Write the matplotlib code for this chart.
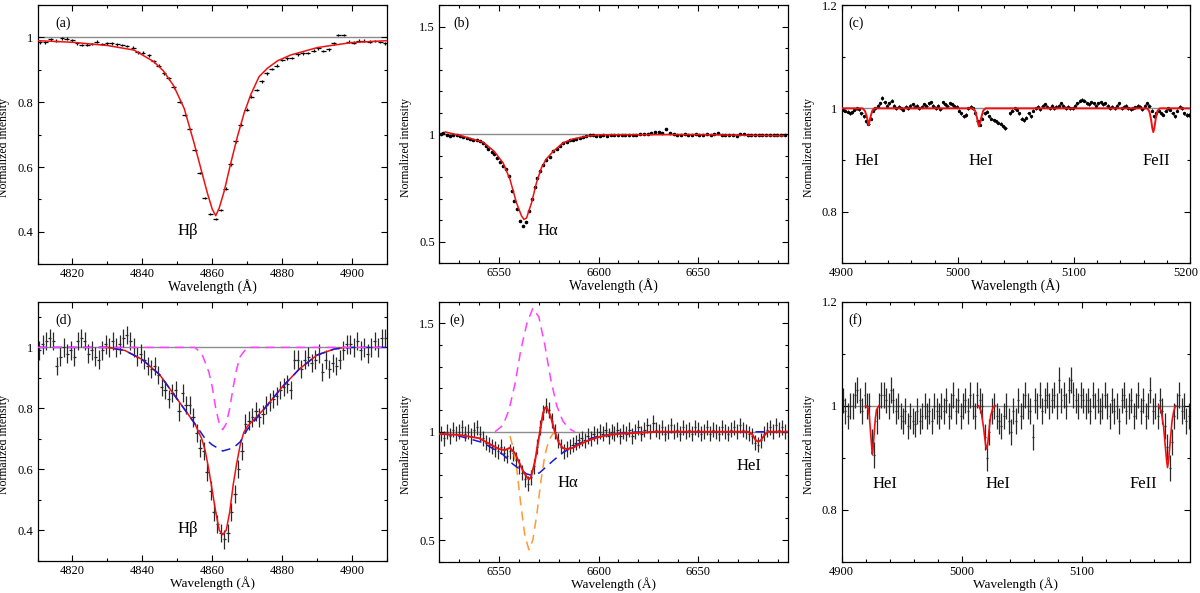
import numpy as np
import matplotlib
matplotlib.use('Agg')
import matplotlib.pyplot as plt
from matplotlib.ticker import MultipleLocator, FuncFormatter

plt.rcParams['font.family'] = ['Liberation Serif', 'DejaVu Serif']

# ---------------- Panel (a): H-beta, high-S/N spectrum ----------------
a_wave = [4810.6, 4812.2, 4813.8, 4815.4, 4817.0, 4818.4, 4819.9, 4821.3, 4822.7, 4824.2,
          4825.6, 4827.0, 4828.5, 4829.9, 4831.3, 4832.8, 4834.2, 4835.6, 4837.4, 4838.7,
          4840.2, 4841.9, 4843.3, 4844.7, 4846.2, 4847.6, 4849.0, 4850.7, 4852.1, 4853.5,
          4855.0, 4856.4, 4857.9, 4859.4, 4861.0, 4862.4, 4863.9, 4865.3, 4866.7, 4868.2,
          4869.8, 4871.2, 4872.7, 4874.1, 4875.6, 4877.0, 4878.4, 4880.1, 4881.4, 4882.8,
          4884.4, 4885.9, 4887.3, 4889.0, 4890.4, 4891.8, 4893.3, 4894.7, 4896.1, 4897.6,
          4899.0, 4900.5, 4901.9, 4903.4, 4905.0, 4906.5, 4908.1, 4909.5]
a_flux = [0.985, 0.985, 0.994, 0.990, 0.997, 0.996, 0.991, 0.982, 0.976, 0.978,
          0.980, 0.987, 0.980, 0.982, 0.982, 0.979, 0.977, 0.974, 0.968, 0.954,
          0.953, 0.945, 0.926, 0.913, 0.889, 0.874, 0.846, 0.802, 0.760, 0.717,
          0.653, 0.582, 0.505, 0.455, 0.440, 0.467, 0.533, 0.608, 0.679, 0.731,
          0.777, 0.817, 0.838, 0.864, 0.889, 0.902, 0.913, 0.930, 0.935, 0.937,
          0.948, 0.951, 0.952, 0.959, 0.966, 0.958, 0.963, 0.982, 1.007, 1.007,
          0.987, 0.984, 0.990, 0.990, 0.987, 0.989, 0.986, 0.982]
a_err = 0.004
a_fit_wave = [4810, 4820, 4830, 4837.6, 4843.3, 4846.0, 4849.0, 4852.0, 4854.8, 4856.7,
              4858.6, 4860.0, 4861.0, 4862.0, 4863.4, 4865.3, 4867.2, 4869.1, 4871.0,
              4873.4, 4875.8, 4878.7, 4882.5, 4890.2, 4899.8, 4910]
a_fit_flux = [0.990, 0.985, 0.975, 0.961, 0.925, 0.897, 0.850, 0.780, 0.674, 0.597,
              0.520, 0.470, 0.450, 0.474, 0.525, 0.612, 0.694, 0.766, 0.823,
              0.879, 0.905, 0.928, 0.946, 0.969, 0.984, 0.990]

# ---------------- Panel (b): H-alpha, high-S/N spectrum ----------------
b_line_wave = [6520.7, 6522.0, 6523.7, 6525.4, 6527.0, 6528.7, 6530.4, 6532.0, 6533.7, 6535.4,
               6537.1, 6538.7, 6540.4, 6542.1, 6543.4, 6544.7, 6546.3, 6547.6, 6549.1, 6550.4,
               6552.1, 6553.4, 6554.8, 6556.3, 6557.6, 6559.1, 6560.6, 6562.1, 6563.5, 6565.2,
               6566.5, 6568.0, 6569.3, 6570.7, 6572.2, 6573.8, 6575.5, 6577.2, 6578.9, 6580.5,
               6582.2, 6583.9, 6585.6, 6587.2, 6588.9, 6590.6, 6592.2, 6593.9, 6595.6, 6597.3,
               6598.9, 6600.6]
b_flux = [1.000, 1.006, 0.998, 0.990, 0.997, 0.994, 0.990, 0.988, 0.983, 0.978,
          0.975, 0.972, 0.967, 0.960, 0.944, 0.929, 0.916, 0.906, 0.887, 0.871,
          0.851, 0.836, 0.805, 0.735, 0.689, 0.650, 0.596, 0.573, 0.591, 0.642,
          0.697, 0.754, 0.797, 0.828, 0.856, 0.878, 0.895, 0.924, 0.932, 0.944,
          0.957, 0.963, 0.971, 0.975, 0.978, 0.981, 0.985, 0.991, 0.994, 0.997,
          0.991, 0.991,
          0.995, 0.993, 0.997, 0.998, 0.995, 0.996, 0.998, 0.994,
          0.995, 0.997, 0.999, 1.003, 1.000, 1.005, 1.008, 1.010, 1.005, 1.025,
          1.005, 1.000, 0.998, 0.996, 1.002, 0.998, 0.997, 0.999, 0.996, 0.998,
          1.000, 0.997, 0.999, 1.005, 0.998, 0.995, 0.994, 0.996, 0.993, 1.003,
          0.999, 0.996, 0.997, 0.998, 0.995, 0.996, 0.997, 0.995, 0.996, 0.995,
          0.998, 0.996]
b_wave = np.concatenate([b_line_wave,
                         np.linspace(6602.3, 6693.5, len(b_flux) - len(b_line_wave))])
b_err = 0.003
b_fit_wave = [6523, 6530, 6542, 6547.6, 6552, 6555.5, 6558.8, 6561.3, 6562.5, 6563.8,
              6566.3, 6568.8, 6571.3, 6573.8, 6577.2, 6582.2, 6587.2, 6593.9, 6600.6,
              6650, 6693]
b_fit_flux = [1.010, 0.995, 0.963, 0.920, 0.867, 0.790, 0.680, 0.620, 0.604, 0.610,
              0.680, 0.774, 0.844, 0.885, 0.920, 0.960, 0.978, 0.990, 0.997,
              0.998, 0.992]

# ---------------- Panel (c): He I / Fe II, high-S/N spectrum ----------------
c_flux = [0.997, 0.995, 0.993, 0.990, 0.992, 0.997, 1.000, 0.998, 0.990, 0.985,
          0.975, 0.970, 0.980, 0.995, 1.000, 1.005, 1.010, 1.020, 1.012, 1.005,
          1.010, 1.015, 1.005, 1.000, 1.003, 1.000, 0.997, 1.003, 1.000, 1.005,
          1.008, 1.003, 1.005, 1.000, 1.003, 1.008, 1.005, 1.010, 1.012, 1.005,
          1.000, 1.005, 0.998, 1.012, 1.008, 1.005, 1.010, 1.008, 1.005, 1.003,
          0.995, 0.990, 0.985, 0.987, 1.000, 1.003, 1.000, 0.990, 0.975, 0.968,
          0.980, 0.990, 0.993, 0.985, 0.980, 0.977, 0.975, 0.972, 0.970, 0.965,
          0.962, np.nan, 0.990, 0.995, 1.000, 0.997, 0.990, 0.980, 0.977, 0.982,
          0.990, 0.985, 0.995, 1.000, 1.003, 0.998, 1.005, 1.008, 1.003, 1.000,
          1.005, 1.000, 1.003, 1.005, 1.010, 1.005, 1.000, 1.003, 1.000, 1.000,
          1.005, 1.010, 1.015, 1.017, 1.015, 1.010, 1.008, 1.012, 1.010, 1.005,
          1.010, 1.012, 1.008, 1.010, 1.005, 1.000, 1.003, 1.000, 1.005, 1.010,
          1.000, 1.003, 1.005, 1.000, 0.998, 1.000, 1.002, 1.005, 1.003, 0.998,
          1.005, 1.010, 1.005, 0.995, 0.985, 0.990, 0.995, 0.990, 0.988, 0.995,
          1.000, 0.997, 0.990, 0.985, 0.995, 1.003, 1.000, 0.990, 0.987, 0.987]
c_wave = np.linspace(4901, 5199, len(c_flux))
c_err = 0.003
c_fit_wave = [4900, 4918, 4920, 4921.5, 4922.5, 4923.2, 4924, 4925, 4926.5, 4928,
              5013, 5015, 5016.5, 5017.5, 5018.3, 5019.2, 5020.5, 5022, 5024,
              5163, 5165, 5166.5, 5167.5, 5168.4, 5169.3, 5170.5, 5172, 5174, 5200]
c_fit_flux = [1.0, 1.0, 0.995, 0.985, 0.975, 0.968, 0.975, 0.985, 0.996, 1.0,
              1.0, 0.995, 0.982, 0.970, 0.965, 0.972, 0.985, 0.996, 1.0,
              1.0, 0.994, 0.978, 0.962, 0.954, 0.962, 0.980, 0.995, 1.0, 1.0]

# ---------------- Panel (d): H-beta, low-S/N spectrum ----------------
d_flux = [0.99, 1.01, 1.02, 1.03, 1.02, 0.94, 0.97, 1.00, 0.98, 0.99,
          0.97, 1.02, 1.03, 1.02, 0.98, 0.99, 0.97, 0.96, 0.99, 1.01,
          1.00, 1.02, 1.00, 1.01, 1.03, 1.04, 1.02, 1.00, 0.97, 0.98,
          0.96, 0.94, 0.93, 0.94, 0.91, 0.87, 0.86, 0.83, 0.85, 0.86,
          0.79, 0.85, 0.81, 0.81, 0.77, 0.72, 0.67, 0.66, 0.59, 0.53,
          0.46, 0.42, 0.39, 0.37, 0.39, 0.46, 0.52, 0.60, 0.66, 0.75,
          0.76, 0.77, 0.79, 0.77, 0.78, 0.81, 0.82, 0.83, 0.84, 0.86,
          0.87, 0.88, 0.86, 0.96, 0.96, 0.93, 0.96, 0.97, 0.95, 0.96,
          0.98, 0.92, 0.96, 0.93, 0.95, 0.94, 0.96, 0.99, 1.01, 1.01,
          1.00, 1.02, 0.99, 1.00, 0.98, 1.00, 1.02, 1.00, 1.03, 1.03]
d_wave = np.linspace(4810.5, 4909.5, len(d_flux))
d_err = 0.03
d_broad_wave = [4810, 4830, 4835, 4840, 4845, 4850, 4855, 4858, 4860, 4863, 4866, 4868,
                4870, 4875, 4880, 4885, 4890, 4895, 4900, 4910]
d_broad_flux = [1.0, 1.0, 0.99, 0.96, 0.91, 0.83, 0.75, 0.70, 0.68, 0.66, 0.67, 0.69,
                0.73, 0.80, 0.87, 0.93, 0.975, 0.995, 1.0, 1.0]
d_narrow_wave = [4810, 4855, 4857, 4859, 4860, 4861, 4862, 4863, 4864, 4865, 4866,
                 4867, 4868, 4870, 4910]
d_narrow_flux = [1.0, 1.0, 0.98, 0.92, 0.87, 0.80, 0.75, 0.73, 0.75, 0.80, 0.87,
                 0.93, 0.97, 1.0, 1.0]
d_fit_wave = [4828, 4830, 4835, 4840, 4845, 4850, 4855, 4857, 4858, 4859, 4860, 4861,
              4862, 4863, 4864, 4865, 4866, 4867, 4868, 4869, 4870, 4875, 4880, 4885,
              4890, 4895, 4898]
d_fit_flux = [1.0, 1.0, 0.99, 0.96, 0.91, 0.83, 0.75, 0.70, 0.66, 0.60, 0.53, 0.46,
              0.40, 0.385, 0.40, 0.46, 0.55, 0.62, 0.68, 0.72, 0.74, 0.80, 0.87, 0.93,
              0.975, 0.995, 1.0]

# ---------------- Panel (e): H-alpha, low-S/N spectrum ----------------
e_flux = [0.99, 0.97, 1.00, 0.98, 1.01, 0.99, 1.00, 1.02, 0.99, 1.00, 0.98, 1.01, 1.02, 0.99,
          0.97, 0.95, 0.94, 0.93, 0.92, 0.91, 0.93, 0.90, 0.89, 0.91, 0.90, 0.87, 0.84, 0.81,
          0.78, 0.76, 0.79, 0.84, 0.93,
          1.02, 1.09, 1.12, 1.10, 1.05, 1.00, 0.96, 0.93, 0.91, 0.92, 0.93, 0.94, 0.95, 0.96,
          0.97, 0.96, 0.98, 0.97, 0.99, 0.98,
          1.00, 0.99, 1.01, 0.98, 1.00, 0.99, 1.01, 0.98, 1.00, 0.99, 1.01, 0.98, 1.00, 1.02,
          0.99, 1.01, 1.03, 1.00, 1.04, 1.01, 1.00, 1.02, 0.99, 1.00,
          1.03, 1.00, 1.01, 0.99, 1.02, 1.00, 1.01, 0.99, 1.02, 1.01, 0.99, 1.00, 1.02, 0.99,
          1.01, 1.00, 0.99, 1.02, 1.00, 0.99, 1.01, 1.02, 1.00, 1.03, 1.01, 1.00,
          0.99, 0.98, 0.95, 0.94, 0.96, 0.99, 1.01, 1.02, 1.00, 1.03, 1.01, 1.02, 1.00]
e_wave = np.linspace(6521.0, 6693.5, len(e_flux))
e_err = 0.035
e_emis_wave = [6548, 6552, 6555, 6558, 6561, 6564, 6567, 6570, 6573, 6576, 6579, 6582,
               6585, 6588]
e_emis_flux = [1.0, 1.03, 1.10, 1.22, 1.38, 1.50, 1.57, 1.53, 1.40, 1.24, 1.12, 1.05,
               1.015, 1.0]
e_abs_wave = [6555.5, 6557, 6559, 6561, 6563, 6565, 6567, 6569, 6571, 6573, 6575, 6577, 6578.5]
e_abs_flux = [0.98, 0.93, 0.82, 0.66, 0.52, 0.455, 0.50, 0.62, 0.77, 0.89, 0.96, 0.99, 1.0]
e_broad_wave = [6521.7, 6530, 6541.8, 6551.9, 6557, 6563.6, 6566, 6570.3, 6577, 6582,
                6588.8, 6597, 6607, 6617, 6695]
e_broad_flux = [0.99, 0.98, 0.95, 0.895, 0.85, 0.806, 0.80, 0.81, 0.865, 0.903,
                0.94, 0.972, 0.99, 0.998, 1.0]
e_fit_wave = [6520, 6530, 6540, 6545, 6550, 6553, 6555.5, 6558, 6560, 6562, 6564, 6565,
              6566, 6568, 6570, 6572, 6573, 6574, 6576, 6578, 6580, 6582, 6584, 6587,
              6590, 6595, 6600, 6605, 6610, 6620, 6630, 6675, 6677, 6679, 6680.2, 6681.5,
              6683, 6685, 6695]
e_fit_flux = [0.99, 0.985, 0.97, 0.945, 0.92, 0.915, 0.926, 0.90, 0.86, 0.82, 0.79, 0.78,
              0.79, 0.86, 0.97, 1.08, 1.11, 1.11, 1.07, 1.00, 0.95, 0.925, 0.92, 0.925,
              0.94, 0.96, 0.975, 0.985, 0.99, 0.995, 1.0, 1.0, 0.99, 0.96, 0.954, 0.96,
              0.98, 1.0, 1.0]

# ---------------- Panel (f): He I / Fe II, low-S/N spectrum ----------------
f_flux = [1.01, 0.99, 0.98, 1.00, 1.00, 1.02, 1.03, 1.01, 0.99, 1.02,
          1.00, 1.00, 0.93, 0.905, 0.97, 1.00, 1.02, 1.02, 1.01, 1.00,
          1.03, 1.01, 0.99, 1.00, 0.98, 0.97, 0.99, 0.96, 0.98, 0.97,
          0.965, 0.99, 0.97, 0.98, 1.00, 0.98, 0.99, 0.97, 1.00, 0.99,
          0.98, 1.00, 0.99, 1.01, 0.98, 1.00, 1.02, 0.99, 1.01, 0.98,
          1.00, 1.01, 0.99, 1.02, 1.00, 0.98, 1.02, 1.01, 1.00, 0.94,
          0.90, 0.95, 0.99, 1.00, 0.98, 0.97, 0.96, 0.98, 1.00, 0.97,
          0.95, 0.99, 0.97, 1.01, 0.98, 1.00, 1.02, 1.00, 0.99, 0.94,
          1.01, 1.00, 1.02, 0.99, 1.01, 1.02, 1.00, 1.01, 1.02, 1.00,
          1.05, 1.01, 1.02, 1.00, 1.03, 1.05, 1.02, 1.01, 1.00, 1.02,
          1.01, 1.00, 1.01, 0.99, 1.02, 1.00, 1.01, 0.99, 1.00, 1.02,
          1.00, 0.98, 1.01, 0.99, 1.00, 0.97, 1.01, 1.02, 0.99, 1.00,
          1.01, 0.98, 1.00, 1.02, 0.99, 1.01, 0.98, 1.00, 1.03, 0.99,
          1.00, 0.98, 1.01, 0.99, 0.96, 0.92, 0.88, 0.93, 0.98, 1.00,
          1.02, 0.99, 1.00, 0.97, 0.98]
f_wave = np.linspace(4901, 5189, len(f_flux))
f_err = 0.025
f_fit_segments = [
    ([4920, 4922, 4923, 4924, 4925, 4925.5, 4926, 4927, 4928, 4929, 4931],
     [1.0, 0.995, 0.98, 0.95, 0.92, 0.907, 0.915, 0.945, 0.975, 0.992, 1.0]),
    ([5014, 5016, 5018, 5019, 5020, 5020.7, 5021.5, 5023, 5024, 5026, 5028],
     [1.0, 0.99, 0.96, 0.94, 0.922, 0.917, 0.925, 0.96, 0.98, 0.997, 1.0]),
    ([5164, 5166, 5168, 5169.5, 5170.5, 5171.3, 5172.2, 5173.5, 5175, 5176.5, 5178],
     [1.0, 0.99, 0.96, 0.92, 0.895, 0.881, 0.895, 0.93, 0.97, 0.99, 1.0]),
]

# ---------------- Layout / styling ----------------
W, H = 1200, 593
fig = plt.figure(figsize=(W / 100, H / 100), dpi=100)

def px_axes(x0, x1, ytop, ybot):
    return fig.add_axes([x0 / W, 1 - ybot / H, (x1 - x0) / W, (ybot - ytop) / H])

RED = '#ee1111'
GRAY = '#8c8c8c'
fmt = FuncFormatter(lambda v, p: '%g' % v)

def style(ax, xlim, ylim, xmaj, xmin, ymaj, ymin, xlabel_y, xlabel_fs=10):
    ax.set_xlim(*xlim)
    ax.set_ylim(*ylim)
    ax.xaxis.set_major_locator(MultipleLocator(xmaj))
    ax.xaxis.set_minor_locator(MultipleLocator(xmin))
    ax.yaxis.set_major_locator(MultipleLocator(ymaj))
    ax.yaxis.set_minor_locator(MultipleLocator(ymin))
    ax.yaxis.set_major_formatter(fmt)
    ax.xaxis.set_major_formatter(fmt)
    ax.tick_params(which='both', direction='in', top=True, right=True, labelsize=9,
                   width=0.8, pad=3)
    ax.tick_params(which='major', length=4)
    ax.tick_params(which='minor', length=2.5)
    for s in ax.spines.values():
        s.set_linewidth(0.9)
    ax.set_xlabel('Wavelength (Å)', fontsize=xlabel_fs)
    ax.set_ylabel('Normalized intensity', fontsize=8.5)
    ax.xaxis.set_label_coords(0.5, xlabel_y)
    ax.yaxis.set_label_coords(-0.078, 0.45)
    ax.axhline(1.0, color=GRAY, lw=1.0, zorder=1)

def panel_label(ax, s, xf, yf=0.93):
    ax.text(xf, yf, s, transform=ax.transAxes, fontsize=10, ha='left', va='center')

# (a)
ax = px_axes(37.5, 387.0, 5.0, 264.3)
style(ax, (4810, 4910), (0.3, 1.1), 20, 10, 0.2, 0.1, -0.057)
ax.errorbar(a_wave, a_flux, xerr=0.7, yerr=a_err, fmt='none', ecolor='black',
            elinewidth=0.9, zorder=2)
ax.plot(a_fit_wave, a_fit_flux, color=RED, lw=1.1, zorder=3)
ax.text(4853.0, 0.402, 'Hβ', fontsize=12, ha='center', va='center')
panel_label(ax, '(a)', 0.05)

# (b)
ax = px_axes(439.3, 787.7, 5.0, 263.3)
style(ax, (6520, 6695), (0.4, 1.6), 50, 10, 0.5, 0.1, -0.057)
ax.errorbar(b_wave, b_flux, xerr=0.5, yerr=b_err, fmt='o', ms=1.6, color='black',
            ecolor='black', elinewidth=0.8, zorder=2)
ax.plot(b_fit_wave, b_fit_flux, color=RED, lw=1.1, zorder=3)
ax.text(6574.7, 0.55, 'Hα', fontsize=12, ha='center', va='center')
panel_label(ax, '(b)', 0.04)

# (c)
ax = px_axes(841.7, 1190.0, 5.0, 263.3)
style(ax, (4900, 5200), (0.7, 1.2), 100, 20, 0.2, 0.1, -0.057)
# the last tick label sits on the figure edge: draw it slightly inward
ax.xaxis.set_major_formatter(FuncFormatter(lambda v, p: '' if v >= 5200 else '%g' % v))
ax.annotate('5200', xy=(5200, 0.7), xytext=(-3, -3), textcoords='offset points',
            ha='center', va='top', fontsize=9, annotation_clip=False)
ax.errorbar(c_wave, c_flux, xerr=1.0, yerr=c_err, fmt='o', ms=1.4, color='black',
            ecolor='black', elinewidth=0.8, zorder=2)
ax.plot(c_fit_wave, c_fit_flux, color=RED, lw=1.4, zorder=3)
for xl, s in [(4922, 'HeI'), (5020, 'HeI'), (5171, 'FeII')]:
    ax.text(xl, 0.898, s, fontsize=12, ha='center', va='center')
panel_label(ax, '(c)', 0.02)

# (d)
ax = px_axes(37.5, 387.0, 301.7, 560.7)
style(ax, (4810, 4910), (0.3, 1.15), 20, 10, 0.2, 0.1, -0.060, 9.5)
ax.errorbar(d_wave, d_flux, xerr=0.45, yerr=d_err, fmt='none', ecolor='#2a2a2a',
            elinewidth=0.9, zorder=2)
ax.plot(d_fit_wave, d_fit_flux, color=RED, lw=1.1, zorder=3)
ax.plot(d_broad_wave, d_broad_flux, color='#1a1ad6', lw=1.1, ls=(0, (6, 4)), zorder=4)
ax.plot(d_narrow_wave, d_narrow_flux, color='#ff40ff', lw=1.1, ls=(0, (6, 4)), zorder=4)
ax.text(4853.1, 0.403, 'Hβ', fontsize=12, ha='center', va='center')
panel_label(ax, '(d)', 0.05)

# (e)
ax = px_axes(439.3, 787.7, 301.7, 561.7)
style(ax, (6520, 6695), (0.4, 1.6), 50, 10, 0.5, 0.1, -0.060, 9.5)
ax.errorbar(e_wave, e_flux, xerr=0.6, yerr=e_err, fmt='none', ecolor='#2a2a2a',
            elinewidth=0.9, zorder=2)
ax.plot(e_emis_wave, e_emis_flux, color='#ff40ff', lw=1.1, ls=(0, (6, 4)), zorder=4)
ax.plot(e_abs_wave, e_abs_flux, color='#ff9933', lw=1.1, ls=(0, (6, 4)), zorder=4)
ax.plot(e_broad_wave, e_broad_flux, color='#1a1ad6', lw=1.1, ls=(0, (6, 4)), zorder=4)
ax.plot(e_fit_wave, e_fit_flux, color=RED, lw=1.4, zorder=5)
ax.text(6584.7, 0.764, 'Hα', fontsize=12, ha='center', va='center')
ax.text(6675.5, 0.841, 'HeI', fontsize=12, ha='center', va='center')
panel_label(ax, '(e)', 0.03)

# (f)
ax = px_axes(841.7, 1190.0, 301.7, 561.7)
style(ax, (4900, 5190), (0.7, 1.2), 100, 20, 0.2, 0.1, -0.060, 9.5)
ax.errorbar(f_wave, f_flux, xerr=0.8, yerr=f_err, fmt='none', ecolor='#2a2a2a',
            elinewidth=0.9, zorder=2)
for fw, ff in f_fit_segments:
    ax.plot(fw, ff, color=RED, lw=1.2, zorder=3)
for xl, s in [(4936, 'HeI'), (5030, 'HeI'), (5151, 'FeII')]:
    ax.text(xl, 0.849, s, fontsize=12, ha='center', va='center')
panel_label(ax, '(f)', 0.02)

fig.savefig('out.png', dpi=100)
